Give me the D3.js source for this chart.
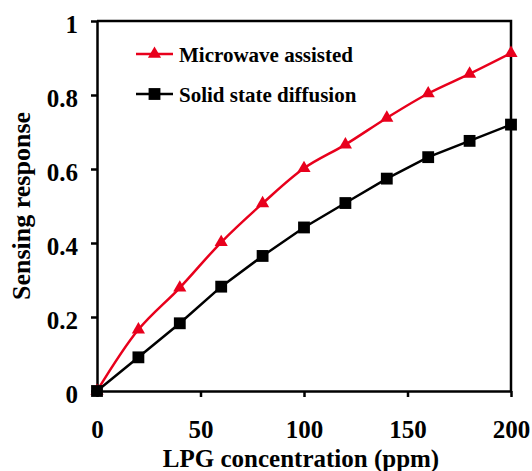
<!DOCTYPE html>
<html>
<head>
<meta charset="utf-8">
<script src="https://cdn.jsdelivr.net/npm/d3@7"></script>
<style>
    body { margin: 0; background: #fff; }
    text { font-family: "Liberation Serif", "Times New Roman", serif; font-weight: bold; }
</style>
</head>
<body>
<div class="canvas"></div>
<script>
const concentration = [0, 20, 40, 60, 80, 100, 120, 140, 160, 180, 200];
const microwave = [0, 0.166, 0.279, 0.402, 0.507, 0.602, 0.666, 0.738, 0.804, 0.857, 0.913];
const solidState = [0, 0.091, 0.183, 0.282, 0.365, 0.442, 0.508, 0.574, 0.632, 0.676, 0.72];
const xTicks = [0, 50, 100, 150, 200];
const yTicks = [0, 0.2, 0.4, 0.6, 0.8, 1];
const seriesNames = ["Microwave assisted", "Solid state diffusion"];

const width = 532, height = 471;
const margin = {top: 21, right: 21, bottom: 80, left: 97};

const svg = d3.select(".canvas").append("svg")
    .attr("width", width)
    .attr("height", height);

const graph = svg.append("g").attr("transform", `translate(${margin.left}, ${margin.top})`);
const w = width - margin.left - margin.right;
const h = height - margin.top - margin.bottom;

const x = d3.scaleLinear().domain([0, 200]).range([0, w]);
const y = d3.scaleLinear().domain([0, 1]).range([h, 0]);

// axes
const xAxis = d3.axisBottom(x).tickValues(xTicks).tickSize(6).tickSizeOuter(0).tickPadding(23).tickFormat(d3.format("d"));
const yAxis = d3.axisLeft(y).tickValues(yTicks).tickSize(6).tickSizeOuter(0).tickPadding(13).tickFormat(d => d === 0 || d === 1 ? d3.format("d")(d) : d3.format(".1f")(d));

const xg = graph.append("g").attr("transform", `translate(0, ${h})`).call(xAxis);
const yg = graph.append("g").call(yAxis);
[xg, yg].forEach(g => {
    g.selectAll("path").attr("stroke", "#000").attr("stroke-width", 2.5);
    g.selectAll("line").attr("stroke", "#000").attr("stroke-width", 2.5);
    g.selectAll("text").attr("fill", "#000").style("font-size", "25px");
});
yg.selectAll("text").attr("dy", "0.45em");

// top and right border
graph.append("path")
    .attr("d", `M0,0H${w}V${h}`)
    .attr("fill", "none")
    .attr("stroke", "#000")
    .attr("stroke-width", 2.5);

// axis titles
svg.append("text")
    .attr("x", 301)
    .attr("y", 467)
    .attr("text-anchor", "middle")
    .style("font-size", "25px")
    .text("LPG concentration (ppm)");

svg.append("text")
    .attr("transform", "rotate(-90)")
    .attr("x", -206)
    .attr("y", 30)
    .attr("text-anchor", "middle")
    .style("font-size", "26px")
    .text("Sensing response");

const red = "#e8001c";
const triangle = d3.symbol().type(d3.symbolTriangle).size(75);
const square = d3.symbol().type(d3.symbolSquare).size(140);

// solid state diffusion
const solidData = concentration.map((c, i) => ({c, v: solidState[i]}));
graph.append("path")
    .datum(solidData)
    .attr("fill", "none")
    .attr("stroke", "#000")
    .attr("stroke-width", 2.5)
    .attr("d", d3.line().x(d => x(d.c)).y(d => y(d.v)));

// microwave assisted
const microData = concentration.map((c, i) => ({c, v: microwave[i]}));
graph.append("path")
    .datum(microData)
    .attr("fill", "none")
    .attr("stroke", red)
    .attr("stroke-width", 2.5)
    .attr("d", d3.line().curve(d3.curveCatmullRom.alpha(0.5)).x(d => x(d.c)).y(d => y(d.v)));

graph.selectAll(".tri")
    .data(microData)
    .enter()
    .append("path")
    .attr("transform", d => `translate(${x(d.c)}, ${y(d.v)})`)
    .attr("d", triangle)
    .attr("fill", red);

graph.selectAll(".sq")
    .data(solidData)
    .enter()
    .append("path")
    .attr("transform", d => `translate(${x(d.c)}, ${y(d.v)})`)
    .attr("d", square)
    .attr("fill", "#000");

// legend
const legend = svg.append("g").attr("transform", "translate(136, 54)");
const legendColors = [red, "#000"];
const legendSymbols = [triangle, square];
seriesNames.forEach((name, i) => {
    const row = legend.append("g").attr("transform", `translate(0, ${i * 40})`);
    row.append("line")
        .attr("x1", 0).attr("x2", 37)
        .attr("stroke", legendColors[i])
        .attr("stroke-width", 2.5);
    row.append("path")
        .attr("transform", "translate(18.5, 0)")
        .attr("d", legendSymbols[i])
        .attr("fill", legendColors[i]);
    row.append("text")
        .attr("x", 43)
        .attr("y", 8)
        .style("font-size", "21px")
        .text(name);
});
</script>
</body>
</html>
